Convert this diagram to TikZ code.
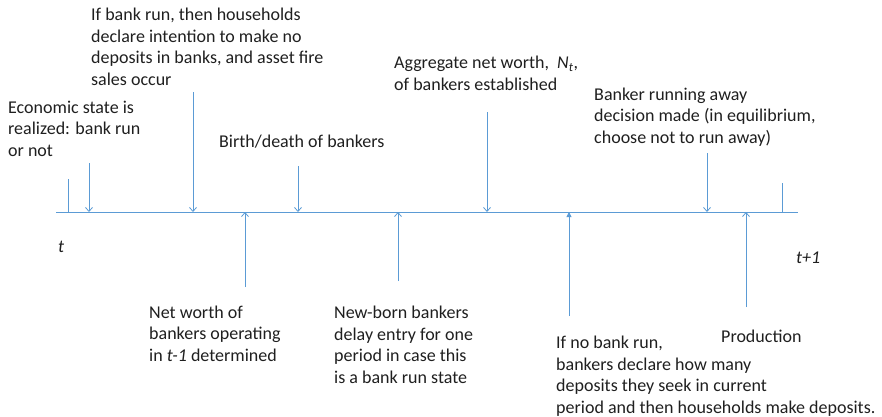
\documentclass[tikz,border=0pt]{standalone}
\usepackage{fontspec}
\setmainfont{Carlito}
\usepackage{tikz}
\usetikzlibrary{arrows.meta,positioning}
\definecolor{tlblue}{HTML}{5B9BD5}

\begin{document}
\begin{tikzpicture}[x=1pt,y=1pt,
  tl/.style={draw=tlblue,line width=0.8pt},
  ev/.style={tl,-{Straight Barb[length=4pt,width=7pt]}},
  evf/.style={tl,-{Triangle[length=5pt,width=5pt]}},
  lbl/.style={align=left,font=\fontsize{18}{21.5}\selectfont,inner sep=0pt,anchor=base west,text=black!88}]
\useasboundingbox (0,0) rectangle (882,-416);

% time line
\coordinate (line-l) at (56,-212);
\coordinate (line-r) at (798,-212);
\draw[tl] (line-l) -- (line-r);
\coordinate (tick-t) at (68,-179);
\coordinate (tick-n) at (782,-183);
\draw[tl] (tick-t) -- (tick-t |- line-l);
\draw[tl] (tick-n) -- (tick-n |- line-l);

\node[lbl] (tlabel) at (58,-252) {\textit{t}};
\node[lbl] (tnext) at (796,-263) {\textit{t+1}};

% events above the line (placed at the baseline of the last line)
\node[lbl] (econ) at (8,-156) {Economic state is\\realized: bank run\\or not};
\node[lbl] (run) at (91,-85) {If bank run, then households\\declare intention to make no\\deposits in banks, and asset fire\\sales occur};
\node[lbl] (birth) at (219,-147) {Birth/death of bankers};
\node[lbl] (agg) at (394,-90) {Aggregate net worth,\ \ \textit{N}\textsubscript{\textit{t}},\\of bankers established};
\node[lbl] (away) at (594,-143) {Banker running away\\decision made (in equilibrium,\\choose not to run away)};

\coordinate (econ-a) at (89,-163);
\coordinate (run-a) at (193,-92);
\coordinate (birth-a) at (298,-166);
\coordinate (agg-a) at (487,-112);
\coordinate (away-a) at (707,-153);
\draw[ev] (econ-a) -- (econ-a |- line-l);
\draw[ev] (run-a) -- (run-a |- line-l);
\draw[ev] (birth-a) -- (birth-a |- line-l);
\draw[ev] (agg-a) -- (agg-a |- line-l);
\draw[ev] (away-a) -- (away-a |- line-l);

% events below the line
\node[lbl] (nwold) at (149,-361) {Net worth of\\bankers operating\\in \textit{t-1} determined};
\node[lbl] (newborn) at (334,-383) {New-born bankers\\delay entry for one\\period in case this\\is a bank run state};
\node[lbl] (norun) at (556,-413) {If no bank run,\\bankers declare how many\\deposits they seek in current\\period and then households make deposits.};
\node[lbl] (prod) at (721,-342) {Production};

\coordinate (nwold-a) at (245,-287);
\coordinate (newborn-a) at (398,-281);
\coordinate (norun-a) at (569,-316);
\coordinate (prod-a) at (746,-307);
\draw[ev] (nwold-a) -- (nwold-a |- line-l);
\draw[ev] (newborn-a) -- (newborn-a |- line-l);
\draw[evf] (norun-a) -- (norun-a |- line-l);
\draw[ev] (prod-a) -- (prod-a |- line-l);
\end{tikzpicture}
\end{document}
